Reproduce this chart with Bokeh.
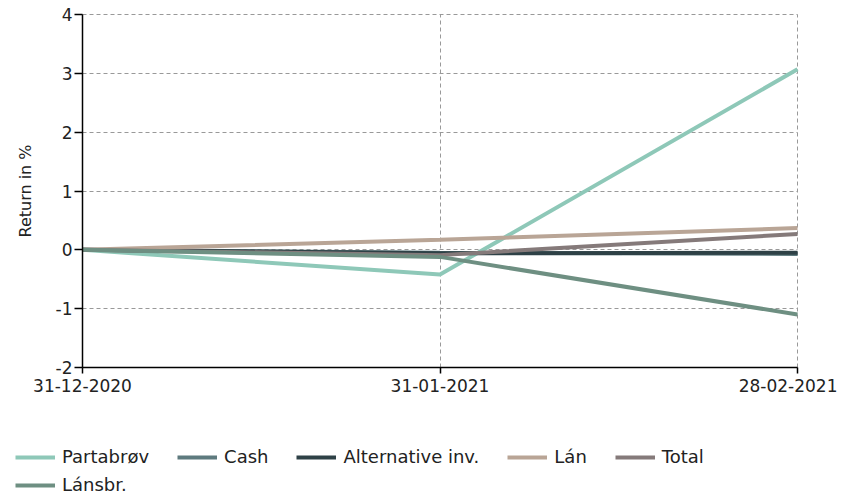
from bokeh.plotting import figure
from bokeh.models import Range1d, Legend, LegendItem, FixedTicker
from bokeh.embed import file_html
from bokeh.resources import INLINE

dates = ["31-12-2020", "31-01-2021", "28-02-2021"]
partabrov = [0.0, -0.42, 3.07]
cash = [0.0, -0.05, -0.07]
alternative = [0.0, -0.06, -0.05]
lan = [0.0, 0.17, 0.37]
total = [0.0, -0.09, 0.27]
lansbr = [0.0, -0.12, -1.10]
y_ticks = [-2, -1, 0, 1, 2, 3, 4]

names = ["Partabrøv", "Cash", "Alternative inv.", "Lán", "Total", "Lánsbr."]
series = [partabrov, cash, alternative, lan, total, lansbr]
colors = ["#8ec8b8", "#5e7a7e", "#2e4146", "#b9a596", "#857a7a", "#6e8f82"]

xs = list(range(len(dates)))
font = "DejaVu Sans"

# frame covers the whole 837x495 canvas; data x 0..2 -> 82..797 px, y -2..4 -> 367..14 px
W, H = 837, 495
px_x = 715 / 2
px_y = 353 / 6
x_lo = -82 / px_x
x_hi = 2 + (W - 797) / px_x
y_hi = 4 + 14 / px_y
y_lo = 4 - (H - 14) / px_y

p = figure(width=W, height=H, output_backend="svg", toolbar_location=None,
           x_range=Range1d(x_lo, x_hi), y_range=Range1d(y_lo, y_hi),
           min_border_left=0, min_border_top=0,
           min_border_right=0, min_border_bottom=0)
p.outline_line_color = None
p.background_fill_color = "white"
p.border_fill_color = "white"

renderers = [p.line(xs, vals, line_color=c, line_width=4) for vals, c in zip(series, colors)]

p.xaxis.ticker = FixedTicker(ticks=xs)
p.xaxis.major_label_overrides = {i: d for i, d in enumerate(dates)}
p.xaxis.fixed_location = y_ticks[0]
p.xaxis.bounds = (xs[0], xs[-1])
p.yaxis.ticker = FixedTicker(ticks=y_ticks)
p.yaxis.major_label_overrides = {t: str(t) for t in y_ticks}
p.yaxis.fixed_location = xs[0]
p.yaxis.bounds = (y_ticks[0], y_ticks[-1])
for ax in (p.xaxis[0], p.yaxis[0]):
    ax.axis_line_color = "black"
    ax.axis_line_width = 1.5
    ax.major_tick_line_color = "black"
    ax.major_tick_line_width = 1.5
    ax.minor_tick_line_color = None
    ax.major_label_text_font = font
    ax.major_label_text_font_size = "17px"
    ax.major_label_text_color = "#222222"
p.yaxis.major_tick_out = 8
p.yaxis.major_tick_in = 0
p.yaxis.major_label_standoff = 2
p.xaxis.major_tick_out = 6
p.xaxis.major_tick_in = 0
p.xaxis.major_label_standoff = 5
p.yaxis.axis_label = "Return in %"
p.yaxis.axis_label_text_font = font
p.yaxis.axis_label_text_font_size = "16px"
p.yaxis.axis_label_text_font_style = "normal"
p.yaxis.axis_label_text_color = "#222222"
p.yaxis.axis_label_standoff = 18

for g in (p.xgrid[0], p.ygrid[0]):
    g.grid_line_color = "#999999"
    g.grid_line_dash = "4 3"
    g.grid_line_width = 1
p.xgrid.cross_bounds = (y_ticks[0], y_ticks[-1])
p.ygrid.cross_bounds = (xs[0], xs[-1])
p.xgrid.bounds = (xs[0], xs[-1])
p.ygrid.bounds = (y_ticks[0], y_ticks[-1])

def make_legend(items, loc):
    leg = Legend(items=items, location=loc, orientation="horizontal")
    leg.glyph_width = 40
    leg.glyph_height = 20
    leg.label_standoff = 7
    leg.spacing = 28
    leg.padding = 0
    leg.margin = 0
    leg.border_line_color = None
    leg.background_fill_alpha = 0
    leg.label_text_font = font
    leg.label_text_font_size = "18px"
    leg.label_text_color = "#222222"
    leg.label_height = 20
    return leg

items1 = [LegendItem(label=n, renderers=[r]) for n, r in zip(names[:5], renderers[:5])]
items2 = [LegendItem(label=names[5], renderers=[renderers[5]])]
p.add_layout(make_legend(items1, (15, 28)), "center")
p.add_layout(make_legend(items2, (15, 0)), "center")

open("out.html", "w").write(file_html(p, INLINE))
